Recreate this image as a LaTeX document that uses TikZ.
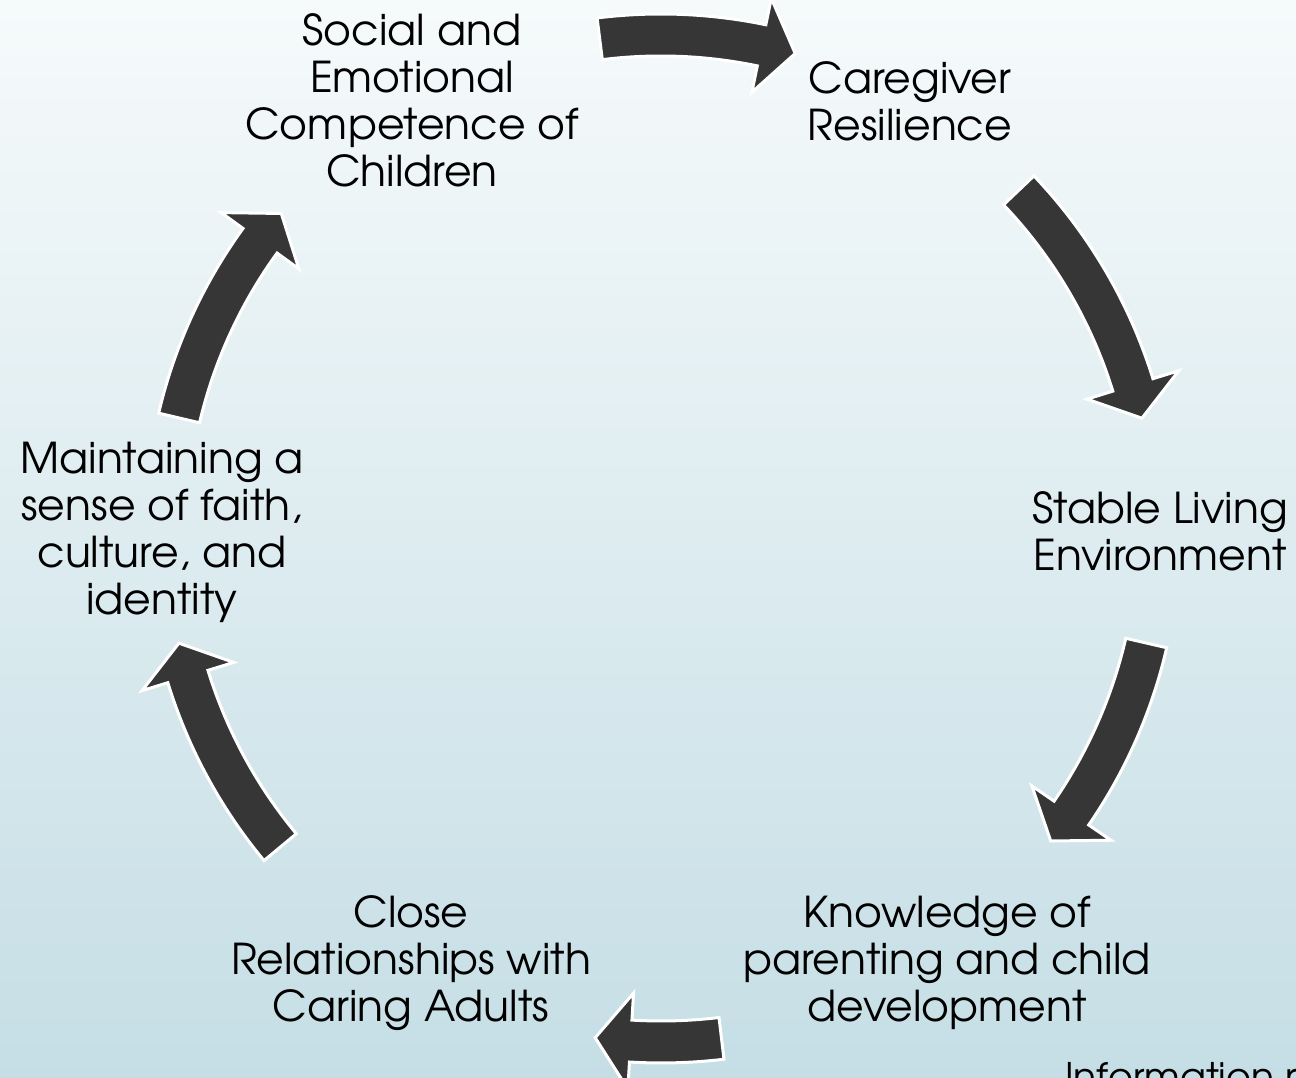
\documentclass[tikz,border=0pt]{standalone}
\usepackage{fontspec}
\setmainfont{texgyreadventor-regular.otf}
\usetikzlibrary{calc}

\definecolor{bgtop}{RGB}{246,250,251}
\definecolor{bgbot}{RGB}{197,222,229}
\definecolor{arrowfill}{RGB}{54,54,54}

\tikzset{
  label text/.style={align=center, text=black, inner sep=0pt,
    font=\fontsize{42.5}{47}\selectfont},
  note text/.style={text=black, inner sep=0pt,
    font=\fontsize{38}{44}\selectfont},
  cycle arrow/.style={fill=arrowfill, draw=white, line width=3pt, line join=miter},
}

% curved block arrow around (C): radius, tail angle, head-base angle, tip angle
\newcommand\cyclearrow[4]{%
  \path[cycle arrow]
    ($(C)+(#2:#1pt+21pt)$) arc[start angle=#2, end angle=#3, radius=#1pt+21pt]
    -- ($(C)+(#3:#1pt+48pt)$)
    -- ($(C)+(#4:#1pt)$)
    -- ($(C)+(#3:#1pt-48pt)$)
    -- ($(C)+(#3:#1pt-21pt)$)
    arc[start angle=#3, end angle=#2, radius=#1pt-21pt]
    -- cycle;}

\begin{document}
\begin{tikzpicture}[x=1pt, y=1pt]
  % background
  \useasboundingbox (0,0) rectangle (1296,1078);
  \clip (0,0) rectangle (1296,1078);
  \shade[top color=bgtop, bottom color=bgbot] (0,0) rectangle (1296,1078);

  \coordinate (C) at (661,547);

  % stages of the cycle
  \node[label text] (social) at (412,978) {Social and\\Emotional\\Competence of\\Children};
  \node[label text] (caregiver) at (910,977) {Caregiver\\Resilience};
  \node[label text] (stable) at (1160,547) {Stable Living\\Environment};
  \node[label text] (knowledge) at (947,115) {Knowledge of\\parenting and child\\development};
  \node[label text] (close) at (411,115) {Close\\Relationships with\\Caring Adults};
  \node[label text] (faith) at (162,546) {Maintaining a\\sense of faith,\\culture, and\\identity};

  % arrows between the stages
  \cyclearrow{496}{97.1}{78.3}{74.3}
  \cyclearrow{494}{43.6}{17.2}{13.2}
  \cyclearrow{498}{-13}{-34.5}{-38.5}
  \cyclearrow{511}{-83.2}{-93.4}{-97.4}
  \cyclearrow{495}{-140.3}{-162.9}{-166.9}
  \cyclearrow{495}{166.8}{144.1}{140.1}

  % source note running off the corner
  \node[note text, anchor=base west] (info) at (1065,-13) {Information re};
\end{tikzpicture}
\end{document}
